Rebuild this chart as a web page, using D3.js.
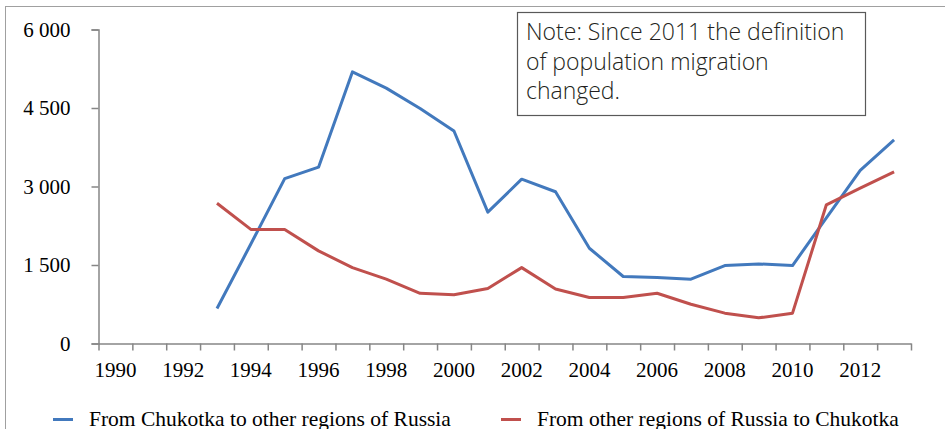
<!DOCTYPE html>
<html>
<head>
<meta charset="utf-8">
<script src="https://cdn.jsdelivr.net/npm/d3@7"></script>
<style>
  body { margin: 0; background: #fff; }
  svg { display: block; }
</style>
</head>
<body>
<div id="chart"></div>
<script>
const years = d3.range(1990, 2014)
// migration, persons; null = no data
const fromChukotka = [null, null, null, 670, 1900, 3150, 3370, 5190, 4880, 4490, 4060, 2510,
  3140, 2900, 1820, 1280, 1260, 1230, 1490, 1520, 1490, 2400, 3310, 3890]
const toChukotka = [null, null, null, 2680, 2180, 2180, 1770, 1450, 1230, 960, 930, 1050,
  1450, 1040, 880, 880, 960, 750, 580, 490, 580, 2650, 2970, 3280]
const yTicks = [0, 1500, 3000, 4500, 6000]
const xLabels = d3.range(1990, 2014, 2)
const seriesNames = ["From Chukotka to other regions of Russia", "From other regions of Russia to Chukotka"]
const noteLines = ["Note: Since 2011 the definition", "of population migration", "changed."]

const W = 945, H = 429
const BLUE = "#4279bd", RED = "#c0504d", AXIS = "#868686"
const SERIF = "Liberation Serif, Times New Roman, serif"

const svg = d3.select("#chart").append("svg")
  .attr("width", W)
  .attr("height", H)

// outer frame
svg.append("rect")
  .attr("x", 5.5).attr("y", 6.5)
  .attr("width", 960).attr("height", 460)
  .attr("fill", "none")
  .attr("stroke", "#a0a0a0")

const x = d3.scaleBand()
  .domain(years)
  .range([98.5, 911])

const xEdge = d3.scaleLinear()
  .domain([1990, 2014])
  .range([98.5, 911])

const y = d3.scaleLinear()
  .domain([0, 6000])
  .range([343.5, 29.5])

const fmt = d3.formatLocale({decimal: ".", thousands: " ", grouping: [3], currency: ["", ""]}).format(",")

// y axis
const gy = svg.append("g")
  .attr("transform", "translate(98.5,0)")
  .call(d3.axisLeft(y).tickValues(yTicks).tickSize(7).tickPadding(21).tickFormat(fmt))
gy.select(".domain").attr("stroke", AXIS).attr("stroke-width", 1.5)
gy.selectAll(".tick line").attr("stroke", AXIS).attr("stroke-width", 1.5)
gy.selectAll("text")
  .attr("font-family", SERIF)
  .attr("font-size", "21px")
  .attr("fill", "#000")

// x axis ticks on category edges
const gx = svg.append("g")
  .attr("transform", "translate(0,343.5)")
  .call(d3.axisBottom(xEdge).tickValues(d3.range(1990, 2015)).tickSize(7).tickFormat("").tickSizeOuter(0))
gx.select(".domain").attr("stroke", AXIS).attr("stroke-width", 1.5)
gx.selectAll(".tick line").attr("stroke", AXIS).attr("stroke-width", 1.5)

// x labels at category centres
const gxl = svg.append("g")
  .attr("transform", "translate(0,343.5)")
  .call(d3.axisBottom(x).tickValues(xLabels).tickSize(0))
gxl.select(".domain").remove()
gxl.selectAll("text")
  .attr("y", 33).attr("dy", null)
  .attr("font-family", SERIF)
  .attr("font-size", "21px")
  .attr("fill", "#000")

// lines
const line = d3.line()
  .defined(function(d) { return d.v != null })
  .x(function(d) { return x(d.year) + x.bandwidth() / 2 })
  .y(function(d) { return y(d.v) })

const series = [
  {name: seriesNames[0], color: BLUE, values: fromChukotka},
  {name: seriesNames[1], color: RED, values: toChukotka}
]

svg.selectAll(".series")
  .data(series)
  .enter().append("path")
    .attr("class", "series")
    .attr("fill", "none")
    .attr("stroke", function(d) { return d.color })
    .attr("stroke-width", 3)
    .attr("stroke-linejoin", "round")
    .attr("d", function(d) {
      return line(years.map(function(yr, i) { return {year: yr, v: d.values[i]} }))
    })

// note box
svg.append("rect")
  .attr("x", 517.5).attr("y", 12.5)
  .attr("width", 348).attr("height", 103)
  .attr("fill", "#fff")
  .attr("stroke", "#595959")
  .attr("stroke-width", 1.2)

svg.append("g").selectAll("text")
  .data(noteLines)
  .enter().append("text")
    .attr("x", 526)
    .attr("y", function(d, i) { return 40 + i * 29.5 })
    .attr("font-family", "Open Sans, sans-serif")
    .attr("font-weight", 300)
    .attr("font-size", "23px")
    .attr("fill", "#231f20")
    .text(function(d) { return d })

// legend
const legendX = [53, 501]
const leg = svg.selectAll(".legend")
  .data(series)
  .enter().append("g")
    .attr("class", "legend")
    .attr("transform", function(d, i) { return `translate(${legendX[i]},419.5)` })

leg.append("line")
  .attr("x1", 0).attr("x2", 20)
  .attr("stroke", function(d) { return d.color })
  .attr("stroke-width", 3)

leg.append("text")
  .attr("x", 36)
  .attr("y", 6.5)
  .attr("font-family", SERIF)
  .attr("font-size", "21.5px")
  .attr("fill", "#000")
  .text(function(d) { return d.name })
</script>
</body>
</html>
